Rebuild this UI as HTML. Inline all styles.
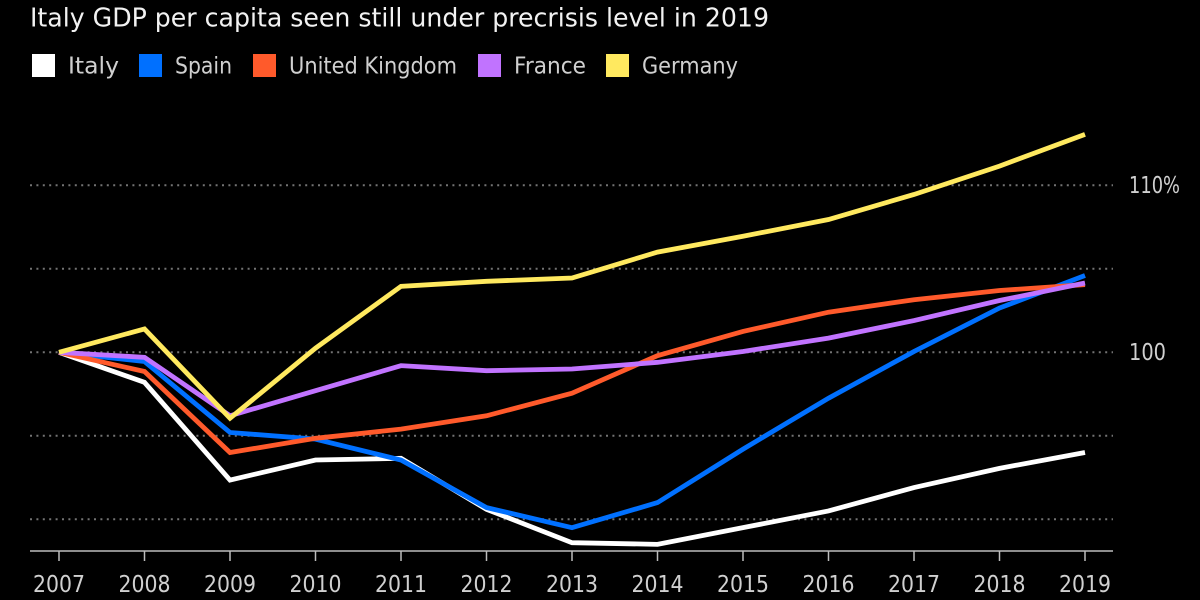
<!DOCTYPE html>
<html lang="en">
<head>
<meta charset="utf-8">
<title>Italy GDP per capita</title>
<style>
html,body{margin:0;padding:0;background:#000;width:1200px;height:600px;overflow:hidden}
svg{display:block}
text{font-family:"DejaVu Sans","Liberation Sans",sans-serif}
</style>
</head>
<body>
<svg id="chart" xmlns="http://www.w3.org/2000/svg" width="1200" height="600" viewBox="0 0 1200 600">
<rect width="1200" height="600" fill="#000"/>
<text x="30" y="26.5" font-size="25.5" fill="#f2f2f2" textLength="739" lengthAdjust="spacingAndGlyphs">Italy GDP per capita seen still under precrisis level in 2019</text>
<g id="legend"></g>
<g id="grid"></g>
<g id="xaxis"></g>
<g id="yaxis"></g>
<g id="series"></g>
</svg>
<script>
const years = [2007,2008,2009,2010,2011,2012,2013,2014,2015,2016,2017,2018,2019];
const italy = [100,98.2,92.35,93.55,93.65,90.6,88.6,88.5,89.5,90.5,91.9,93.05,94];
const spain = [100,99.45,95.2,94.8,93.55,90.7,89.5,91,94.2,97.25,100.05,102.65,104.6];
const unitedKingdom = [100,98.85,94,94.85,95.4,96.2,97.55,99.8,101.25,102.4,103.15,103.7,104.05];
const france = [100,99.7,96.2,97.7,99.2,98.9,99,99.4,100.05,100.85,101.9,103.1,104.15];
const germany = [100,101.4,96.05,100.25,103.95,104.25,104.45,106,106.95,107.95,109.45,111.15,113.05];
const gridValues = [90,95,100,105,110];
const yTickValues = [100,110];
const yTickLabels = ['100','110%'];
const seriesNames = ['Italy','Spain','United Kingdom','France','Germany'];
const seriesColors = ['#ffffff','#0070ff','#ff5a2b','#c173ff','#ffe95f'];
const seriesValues = [italy,spain,unitedKingdom,france,germany];

const NS = 'http://www.w3.org/2000/svg';
function xScale(year){ return 59 + (year - 2007) * (1085 - 59) / 12; }
function yScale(v){ return 352.3 - (v - 100) * 16.7; }
function make(tag, attrs, parent){
  const el = document.createElementNS(NS, tag);
  for (const k in attrs) el.setAttribute(k, attrs[k]);
  parent.appendChild(el);
  return el;
}
const slug = s => s.toLowerCase().replace(/\s+/g,'-');

const gridG = document.getElementById('grid');
gridValues.forEach(v => {
  const l = make('line',{x1:30,x2:1113,y1:yScale(v),y2:yScale(v),stroke:'#737373','stroke-width':2,'stroke-dasharray':'2 4.4'},gridG);
  
  
});

const xG = document.getElementById('xaxis');
const axisLine = make('line',{x1:30,x2:1113,y1:551,y2:551,stroke:'#bdbdbd','stroke-width':1.5},xG);


years.forEach(y => {
  const t = make('line',{x1:xScale(y),x2:xScale(y),y1:551,y2:561,stroke:'#bdbdbd','stroke-width':1.5},xG);
  
  
  const lab = make('text',{x:xScale(y)-26,y:592,'font-size':23,fill:'#d0d0d0',textLength:52,lengthAdjust:'spacingAndGlyphs'},xG);
  
  
  lab.textContent = y;
});

const yLabelFit = [37,51];
const yG = document.getElementById('yaxis');
yTickValues.forEach((v,i) => {
  const lab = make('text',{x:1129,y:yScale(v)+7.5,'font-size':23,fill:'#d0d0d0',textLength:yLabelFit[i],lengthAdjust:'spacingAndGlyphs'},yG);
  
  
  lab.textContent = yTickLabels[i];
});

const sG = document.getElementById('series');
seriesValues.forEach((vals,i) => {
  const p = make('polyline',{points:vals.map((v,j)=>xScale(years[j])+','+yScale(v)).join(' '),fill:'none',stroke:seriesColors[i],'stroke-width':4.8,'stroke-linejoin':'miter','stroke-linecap':'butt'},sG);
  
  
});

const legendX = [32,139,253,478,606];
const legendFit = [51,57,168,72,96];
const legG = document.getElementById('legend');
seriesNames.forEach((n,i) => {
  const s = make('rect',{x:legendX[i],y:54,width:23,height:23,fill:seriesColors[i]},legG);
  
  
  const t = make('text',{x:legendX[i]+36,y:73.5,'font-size':23,fill:'#cfcfcf',textLength:legendFit[i],lengthAdjust:'spacingAndGlyphs'},legG);
  
  
  t.textContent = n;
});
</script>
</body>
</html>
